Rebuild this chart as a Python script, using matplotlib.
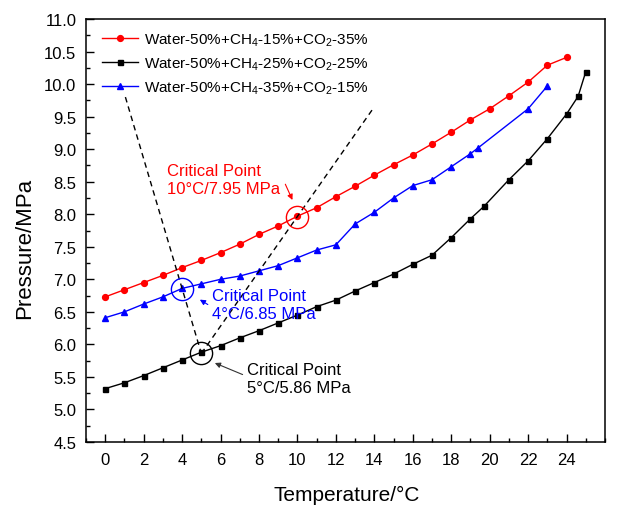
import numpy as np
import matplotlib
matplotlib.use('Agg')
import matplotlib.pyplot as plt
from matplotlib.ticker import MultipleLocator, FormatStrFormatter

plt.rcParams['font.family'] = ['Liberation Sans', 'DejaVu Sans']
plt.rcParams['mathtext.fontset'] = 'custom'
plt.rcParams['mathtext.rm'] = 'Liberation Sans'
plt.rcParams['mathtext.it'] = 'Liberation Sans:italic'

# serie 1: CH4-15% / CO2-35%
t_red = list(range(0, 25))
p_red = [6.73, 6.84, 6.95, 7.06, 7.18, 7.29, 7.41, 7.54, 7.69, 7.82, 7.97, 8.10, 8.27,
         8.43, 8.60, 8.76, 8.91, 9.08, 9.26, 9.45, 9.62, 9.82, 10.03, 10.29, 10.41]

# serie 2: CH4-25% / CO2-25%
t_black = list(range(0, 20)) + [19.7, 21, 22, 23, 24, 24.6, 25]
p_black = [5.32, 5.41, 5.52, 5.64, 5.76, 5.88, 5.98, 6.10, 6.21, 6.33, 6.45, 6.58, 6.68,
           6.82, 6.95, 7.08, 7.23, 7.37, 7.64, 7.93, 8.12, 8.53, 8.82, 9.16, 9.54, 9.81, 10.19]

# serie 3: CH4-35% / CO2-15%
t_blue = list(range(0, 20)) + [19.4, 22, 23]
p_blue = [6.41, 6.50, 6.62, 6.73, 6.86, 6.93, 7.00, 7.05, 7.13, 7.21, 7.33, 7.45, 7.53,
          7.85, 8.03, 8.25, 8.44, 8.53, 8.73, 8.93, 9.02, 9.62, 9.97]

labels = ['Water-50%+CH$_4$-15%+CO$_2$-35%',
          'Water-50%+CH$_4$-25%+CO$_2$-25%',
          'Water-50%+CH$_4$-35%+CO$_2$-15%']

# pontos criticos (T, P)
crit_red = (10, 7.95)
crit_blue = (4, 6.85)
crit_black = (5, 5.86)

# linhas tracejadas
dash1_t = [1.05, 5]
dash1_p = [9.80, 5.86]
dash2_t = [5, 13.95]
dash2_p = [5.86, 9.63]

fig = plt.figure(figsize=(6.17, 5.06), dpi=100)
ax = fig.add_axes([86/617, 1-443/506, 519/617, 423/506])

ax.plot(t_red, p_red, color='#ff0000', lw=1.0, marker='o', ms=4.2, label=labels[0])
ax.plot(t_black, p_black, color='black', lw=1.0, marker='s', ms=3.6, label=labels[1])
ax.plot(t_blue, p_blue, color='#0000ff', lw=1.0, marker='^', ms=4.6, label=labels[2])

ax.plot(dash1_t, dash1_p, 'k--', lw=1.0, dashes=(4, 3))
ax.plot(dash2_t, dash2_p, 'k--', lw=1.0, dashes=(4, 3))

# circulos
ax.plot(*crit_red, marker='o', ms=16, mfc='none', mec='#ff0000', mew=1.0)
ax.plot(*crit_blue, marker='o', ms=16, mfc='none', mec='#0000ff', mew=1.0)
ax.plot(*crit_black, marker='o', ms=16, mfc='none', mec='black', mew=1.0)

ax.text(3.23, 8.53, 'Critical Point\n10°C/7.95 MPa', color='#ff0000', fontsize=12,
        ha='left', va='center', linespacing=1.25)
ax.annotate('', xy=(9.80, 8.18), xytext=(9.31, 8.50),
            arrowprops=dict(arrowstyle='-|>', color='#ff0000', lw=0.8, mutation_scale=8))

ax.text(5.57, 6.61, 'Critical Point\n4°C/6.85 MPa', color='#0000ff', fontsize=12,
        ha='left', va='center', linespacing=1.25)
ax.annotate('', xy=(4.80, 6.71), xytext=(5.46, 6.59),
            arrowprops=dict(arrowstyle='-|>', color='#0000ff', lw=0.8, mutation_scale=8))

ax.text(7.39, 5.47, 'Critical Point\n5°C/5.86 MPa', color='black', fontsize=12,
        ha='left', va='center', linespacing=1.25)
ax.annotate('', xy=(5.57, 5.73), xytext=(7.28, 5.52),
            arrowprops=dict(arrowstyle='-|>', color='#333333', lw=0.8, mutation_scale=8))

ax.set_xlim(-1, 26)
ax.set_ylim(4.5, 11.0)
ax.set_xticks(np.arange(0, 26, 2))
ax.set_yticks(np.arange(4.5, 11.01, 0.5))
ax.xaxis.set_minor_locator(MultipleLocator(1))
ax.yaxis.set_minor_locator(MultipleLocator(0.25))
ax.yaxis.set_major_formatter(FormatStrFormatter('%.1f'))
ax.tick_params(which='major', direction='in', length=6, width=1, labelsize=12, pad=7)
ax.tick_params(which='minor', direction='in', length=3, width=1)
for s in ax.spines.values():
    s.set_linewidth(1.1)

ax.set_xlabel('Temperature/°C', fontsize=15, va='center')
ax.set_ylabel('Pressure/MPa', fontsize=16, va='center')
ax.xaxis.set_label_coords(0.502, -0.123)
ax.yaxis.set_label_coords(-0.119, 0.459)

ax.legend(loc='upper left', bbox_to_anchor=(0.02, 0.985), frameon=False, fontsize=11,
          handlelength=2.3, handletextpad=0.4, labelspacing=0.5, borderaxespad=0)

fig.savefig('out.png', dpi=100)
